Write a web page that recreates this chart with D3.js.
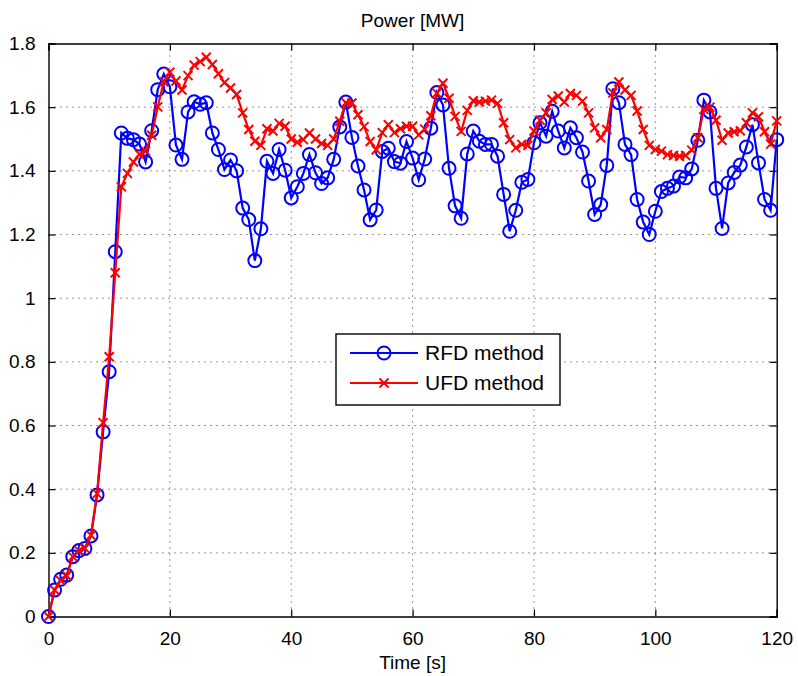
<!DOCTYPE html>
<html>
<head>
<meta charset="utf-8">
<script src="https://cdn.jsdelivr.net/npm/d3@7"></script>
<style>
  body { margin: 0; background: #fff; }
  text { font-family: "Liberation Sans", Arial, Helvetica, sans-serif; fill: #000; }
</style>
</head>
<body>
<svg id="chart" width="798" height="676"></svg>
<script>
// one sample per second, t = 0..120
const rfd = [
  0, 0.083, 0.117, 0.130, 0.188, 0.207, 0.214, 0.253, 0.382, 0.580,
  0.769, 1.146, 1.519, 1.502, 1.498, 1.484, 1.428, 1.526, 1.655, 1.704,
  1.664, 1.481, 1.436, 1.585, 1.617, 1.609, 1.614, 1.519, 1.467, 1.404,
  1.434, 1.400, 1.283, 1.247, 1.118, 1.218, 1.430, 1.392, 1.467, 1.402,
  1.315, 1.350, 1.392, 1.451, 1.394, 1.360, 1.378, 1.436, 1.538, 1.616,
  1.505, 1.415, 1.340, 1.246, 1.277, 1.461, 1.471, 1.429, 1.424, 1.492,
  1.440, 1.372, 1.437, 1.534, 1.646, 1.607, 1.408, 1.290, 1.251, 1.453,
  1.525, 1.493, 1.483, 1.483, 1.446, 1.326, 1.210, 1.276, 1.364, 1.373,
  1.488, 1.551, 1.509, 1.587, 1.525, 1.472, 1.535, 1.504, 1.459, 1.368,
  1.263, 1.294, 1.417, 1.658, 1.614, 1.483, 1.451, 1.310, 1.239, 1.200,
  1.273, 1.335, 1.345, 1.352, 1.381, 1.378, 1.406, 1.496, 1.622, 1.585,
  1.345, 1.219, 1.362, 1.395, 1.418, 1.475, 1.545, 1.425, 1.310, 1.276,
  1.498
];

const ufd = [
  0, 0.083, 0.113, 0.128, 0.188, 0.207, 0.214, 0.255, 0.386, 0.609,
  0.816, 1.080, 1.350, 1.392, 1.428, 1.452, 1.462, 1.512, 1.601, 1.680,
  1.710, 1.682, 1.654, 1.699, 1.732, 1.743, 1.757, 1.734, 1.705, 1.677,
  1.660, 1.640, 1.582, 1.530, 1.493, 1.480, 1.532, 1.525, 1.549, 1.540,
  1.500, 1.490, 1.498, 1.519, 1.500, 1.486, 1.480, 1.500, 1.556, 1.614,
  1.613, 1.576, 1.539, 1.492, 1.466, 1.520, 1.545, 1.520, 1.532, 1.540,
  1.540, 1.513, 1.531, 1.573, 1.644, 1.675, 1.628, 1.571, 1.524, 1.590,
  1.620, 1.616, 1.619, 1.622, 1.612, 1.551, 1.498, 1.472, 1.483, 1.480,
  1.525, 1.559, 1.582, 1.624, 1.635, 1.616, 1.643, 1.637, 1.619, 1.582,
  1.535, 1.504, 1.530, 1.645, 1.679, 1.654, 1.637, 1.588, 1.530, 1.480,
  1.467, 1.462, 1.451, 1.448, 1.446, 1.448, 1.465, 1.504, 1.593, 1.600,
  1.559, 1.496, 1.519, 1.523, 1.526, 1.551, 1.582, 1.570, 1.523, 1.484,
  1.557
];

const xTicks = [0, 20, 40, 60, 80, 100, 120];
const yTicks = [0, 0.2, 0.4, 0.6, 0.8, 1, 1.2, 1.4, 1.6, 1.8];
const seriesNames = ["RFD method", "UFD method"];

const svg = d3.select("#chart");
const width = +svg.attr("width");
const height = +svg.attr("height");
const margin = { top: 43.5, right: 21.3, bottom: 59.5, left: 48.5 };
const plotWidth = width - margin.left - margin.right;
const plotHeight = height - margin.top - margin.bottom;
const fontSize = 19;

const g = svg.append("g")
  .attr("transform", `translate(${margin.left},${margin.top})`);

const x = d3.scaleLinear().domain([0, 120]).range([0, plotWidth]);
const y = d3.scaleLinear().domain([0, 1.8]).range([plotHeight, 0]);

// dotted grid
g.append("g")
  .selectAll("line")
  .data(xTicks.slice(1, -1))
  .join("line")
  .attr("x1", d => x(d)).attr("x2", d => x(d))
  .attr("y1", 0).attr("y2", plotHeight)
  .attr("stroke", "#333").attr("stroke-width", 1)
  .attr("stroke-dasharray", "1,5");

g.append("g")
  .selectAll("line")
  .data(yTicks.slice(1, -1))
  .join("line")
  .attr("y1", d => y(d)).attr("y2", d => y(d))
  .attr("x1", 0).attr("x2", plotWidth)
  .attr("stroke", "#333").attr("stroke-width", 1)
  .attr("stroke-dasharray", "1,5");

// axes: inward ticks on all four sides, like matlab
const tickLen = 7;
const xAxisB = g.append("g")
  .attr("transform", `translate(0,${plotHeight})`)
  .call(d3.axisBottom(x).tickValues(xTicks).tickSize(-tickLen).tickPadding(tickLen + 8).tickFormat(d3.format("d")));
const xAxisT = g.append("g")
  .call(d3.axisTop(x).tickValues(xTicks).tickSize(-tickLen).tickFormat(""));
const yAxisL = g.append("g")
  .call(d3.axisLeft(y).tickValues(yTicks).tickSize(-tickLen).tickPadding(tickLen + 6).tickFormat(d => d3.format("")(+d.toFixed(1))));
const yAxisR = g.append("g")
  .attr("transform", `translate(${plotWidth},0)`)
  .call(d3.axisRight(y).tickValues(yTicks).tickSize(-tickLen).tickFormat(""));

[xAxisB, xAxisT, yAxisL, yAxisR].forEach(a => {
  a.select(".domain").attr("stroke", "#000").attr("stroke-width", 1.4);
  a.selectAll(".tick line").attr("stroke", "#000").attr("stroke-width", 1.2);
  a.selectAll(".tick text")
    .attr("font-size", fontSize)
    .attr("font-family", "Liberation Sans, Arial, sans-serif")
    .attr("fill", "#000");
});

// lines
const line = d3.line()
  .x((d, i) => x(i))
  .y(d => y(d));

g.append("path")
  .datum(rfd)
  .attr("d", line)
  .attr("fill", "none")
  .attr("stroke", "#0000ff")
  .attr("stroke-width", 2.2);

g.selectAll(".rfd-dot")
  .data(rfd)
  .join("circle")
  .attr("class", "rfd-dot")
  .attr("cx", (d, i) => x(i))
  .attr("cy", d => y(d))
  .attr("r", 6.5)
  .attr("fill", "none")
  .attr("stroke", "#0000ff")
  .attr("stroke-width", 2);

g.append("path")
  .datum(ufd)
  .attr("d", line)
  .attr("fill", "none")
  .attr("stroke", "#ff0000")
  .attr("stroke-width", 2.2);

const cross = "M-4.5,-4.5L4.5,4.5M-4.5,4.5L4.5,-4.5";
g.selectAll(".ufd-x")
  .data(ufd)
  .join("path")
  .attr("class", "ufd-x")
  .attr("transform", (d, i) => `translate(${x(i)},${y(d)})`)
  .attr("d", cross)
  .attr("fill", "none")
  .attr("stroke", "#ff0000")
  .attr("stroke-width", 2);

// title and axis label
svg.append("text")
  .attr("x", margin.left + plotWidth / 2)
  .attr("y", 27)
  .attr("text-anchor", "middle")
  .attr("font-size", fontSize)
  .text("Power [MW]");

svg.append("text")
  .attr("x", margin.left + plotWidth / 2)
  .attr("y", 669)
  .attr("text-anchor", "middle")
  .attr("font-size", fontSize)
  .text("Time [s]");

// legend
const legend = svg.append("g").attr("transform", "translate(336,334)");
legend.append("rect")
  .attr("width", 224).attr("height", 71)
  .attr("fill", "#fff").attr("stroke", "#000").attr("stroke-width", 1.4);

const items = legend.selectAll(".item")
  .data(seriesNames)
  .join("g")
  .attr("class", "item")
  .attr("transform", (d, i) => `translate(0,${19 + i * 30})`);

items.append("line")
  .attr("x1", 14).attr("x2", 82)
  .attr("stroke", (d, i) => i === 0 ? "#0000ff" : "#ff0000")
  .attr("stroke-width", 2.2);

items.filter((d, i) => i === 0).append("circle")
  .attr("cx", 48).attr("r", 6.5)
  .attr("fill", "none").attr("stroke", "#0000ff").attr("stroke-width", 2);

items.filter((d, i) => i === 1).append("path")
  .attr("transform", "translate(48,0)")
  .attr("d", cross)
  .attr("fill", "none").attr("stroke", "#ff0000").attr("stroke-width", 2);

items.append("text")
  .attr("x", 89)
  .attr("dy", "0.35em")
  .attr("font-size", 21)
  .text(d => d);
</script>
</body>
</html>
